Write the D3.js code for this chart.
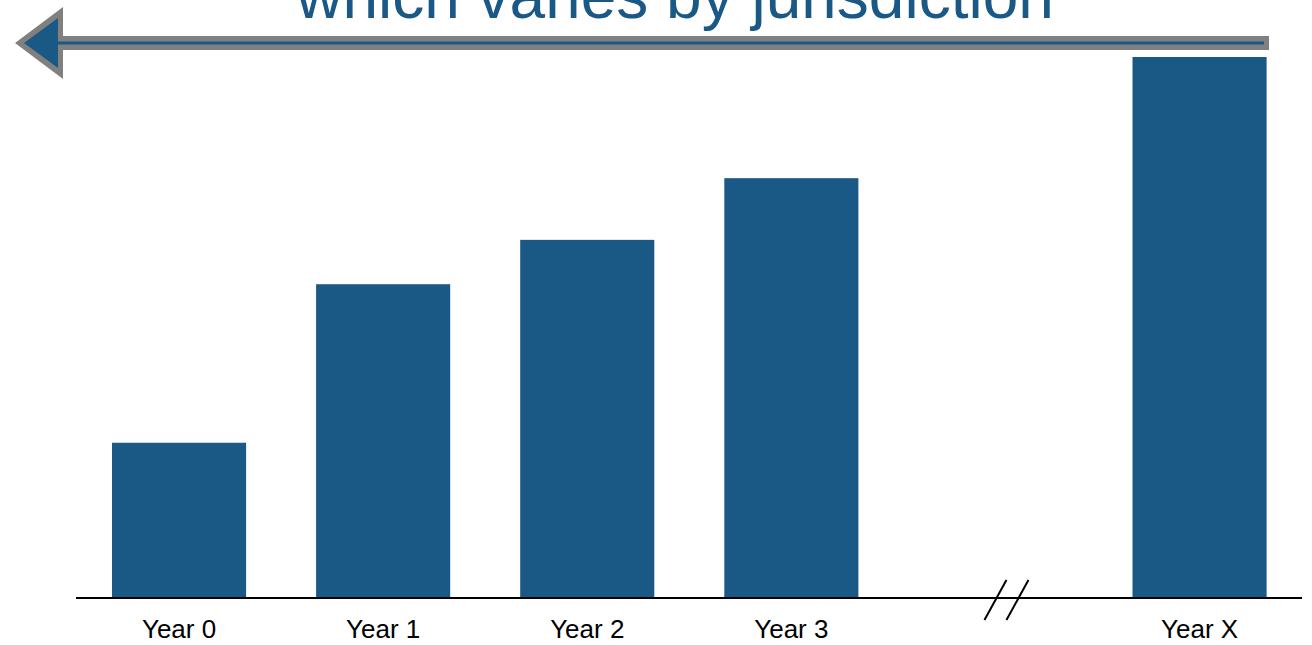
<!DOCTYPE html>
<html>
<head>
<meta charset="utf-8">
<script src="https://cdn.jsdelivr.net/npm/d3@7"></script>
<style>
  html, body { margin: 0; padding: 0; background: #ffffff; }
  svg { display: block; font-family: "Liberation Sans", Arial, sans-serif; }
</style>
</head>
<body>
<svg id="chart" width="1312" height="645"></svg>
<script>
// Bar heights for each year (relative units, final year = 100)
const categories = ["Year 0", "Year 1", "Year 2", "Year 3", "Year X"];
const values = [28.7, 58.0, 66.2, 77.6, 100];
// An empty slot sits before the last year to mark the skipped period
const breakSlot = "…";
const slots = [...categories.slice(0, 4), breakSlot, categories[4]];
const titleText = "which varies by jurisdiction";

const blue = "#1a5886";
const grey = "#808080";

const svg = d3.select("#chart");
const baseY = 598;

const x = d3.scaleBand()
  .domain(slots)
  .range([77, 1301.6])
  .paddingInner(0.343)
  .paddingOuter(0.1715);

const y = d3.scaleLinear()
  .domain([0, 100])
  .range([baseY, 57]);

// Bars
svg.append("g")
  .selectAll("rect")
  .data(categories.map((c, i) => ({ c, v: values[i] })))
  .join("rect")
  .attr("x", d => x(d.c))
  .attr("y", d => y(d.v))
  .attr("width", x.bandwidth())
  .attr("height", d => y(0) - y(d.v))
  .attr("fill", blue);

// Category axis
const axis = svg.append("g")
  .attr("transform", `translate(0,${baseY})`)
  .call(d3.axisBottom(x).tickSize(0).tickPadding(22)
    .tickFormat(d => d === breakSlot ? "" : d));
axis.select(".domain")
  .attr("d", "M76,0H1302")
  .attr("stroke", "#000")
  .attr("stroke-width", 2);
axis.selectAll("text")
  .attr("font-family", "Liberation Sans, Arial, sans-serif")
  .attr("font-size", 26)
  .attr("fill", "#000");

// Axis break marks
const bx = x(breakSlot) + x.bandwidth() / 2 + 11;
svg.append("g")
  .selectAll("line")
  .data([-11, 11])
  .join("line")
  .attr("x1", d => bx + d - 11)
  .attr("y1", baseY + 22)
  .attr("x2", d => bx + d + 11)
  .attr("y2", baseY - 18)
  .attr("stroke", "#000")
  .attr("stroke-width", 2);

// Title banner text
svg.append("text")
  .attr("x", 675)
  .attr("y", 18)
  .attr("text-anchor", "middle")
  .attr("font-size", 64)
  .attr("fill", blue)
  .text(titleText);

// Leftward arrow: grey outline with blue core
const line = d3.line();
svg.append("path")
  .attr("d", line([[1269, 36], [63, 36], [63, 7], [15, 43], [63, 79], [63, 50], [1269, 50]]) + "Z")
  .attr("fill", grey);
svg.append("path")
  .attr("d", line([[1264, 41.5], [58, 41.5], [58, 18], [24, 43], [58, 68], [58, 44.5], [1264, 44.5]]) + "Z")
  .attr("fill", blue);
</script>
</body>
</html>
